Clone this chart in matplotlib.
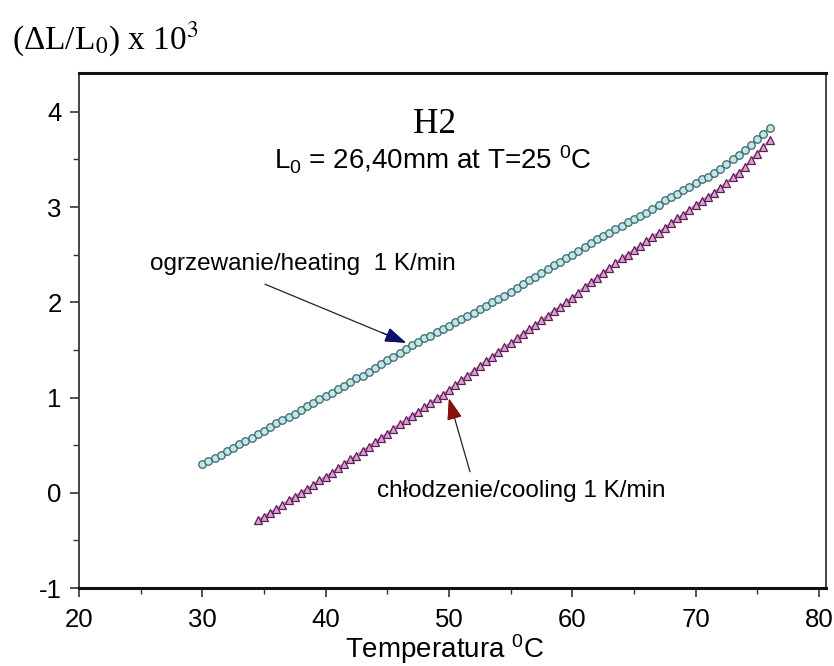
import numpy as np
import matplotlib
matplotlib.use("Agg")
import matplotlib.pyplot as plt
from matplotlib.ticker import MultipleLocator

plt.rcParams["font.family"] = ["Liberation Sans", "DejaVu Sans"]
plt.rcParams["axes.unicode_minus"] = False
plt.rcParams["mathtext.fontset"] = "custom"
plt.rcParams["mathtext.rm"] = "Liberation Sans"
plt.rcParams["mathtext.it"] = "Liberation Sans:italic"

# Relative elongation (dL/L0 x 1e3), sampled every 0.5 K
dl_heat = [
    0.30, 0.33, 0.37, 0.40, 0.44, 0.47, 0.51, 0.54, 0.58, 0.62,
    0.65, 0.69, 0.73, 0.76, 0.80, 0.83, 0.87, 0.91, 0.94, 0.98,
    1.02, 1.05, 1.09, 1.12, 1.16, 1.20, 1.23, 1.27, 1.31, 1.35,
    1.39, 1.43, 1.47, 1.51, 1.55, 1.58, 1.62, 1.65, 1.69, 1.72,
    1.75, 1.79, 1.82, 1.86, 1.89, 1.93, 1.96, 2.00, 2.03, 2.07,
    2.11, 2.15, 2.19, 2.23, 2.27, 2.31, 2.35, 2.39, 2.42, 2.46,
    2.50, 2.54, 2.58, 2.62, 2.66, 2.70, 2.73, 2.77, 2.80, 2.84,
    2.87, 2.91, 2.94, 2.98, 3.02, 3.07, 3.11, 3.14, 3.18, 3.21,
    3.25, 3.29, 3.32, 3.36, 3.40, 3.45, 3.50, 3.55, 3.60, 3.65,
    3.71, 3.77, 3.83,
]
dl_cool = [
    -0.29, -0.25, -0.21, -0.17, -0.13, -0.08, -0.04, 0.00, 0.04, 0.08,
    0.13, 0.17, 0.21, 0.26, 0.30, 0.35, 0.39, 0.44, 0.48, 0.53,
    0.58, 0.62, 0.67, 0.72, 0.76, 0.81, 0.85, 0.90, 0.94, 0.99,
    1.03, 1.08, 1.13, 1.18, 1.23, 1.28, 1.33, 1.38, 1.43, 1.48,
    1.53, 1.57, 1.62, 1.67, 1.72, 1.76, 1.81, 1.86, 1.91, 1.95,
    2.00, 2.05, 2.10, 2.16, 2.21, 2.26, 2.31, 2.36, 2.41, 2.46,
    2.50, 2.55, 2.59, 2.64, 2.69, 2.73, 2.78, 2.83, 2.88, 2.92,
    2.97, 3.02, 3.06, 3.11, 3.15, 3.20, 3.25, 3.31, 3.36, 3.42,
    3.49, 3.56, 3.63, 3.70,
]
t_heat_start, t_cool_start, t_end = 30.0, 34.5, 76.0
temp_heat = np.linspace(t_heat_start, t_end, len(dl_heat))
temp_cool = np.linspace(t_cool_start, t_end, len(dl_cool))

x_ticks = [20, 30, 40, 50, 60, 70, 80]
y_ticks = [-1, 0, 1, 2, 3, 4]

fig = plt.figure(figsize=(8.34, 6.66), dpi=100)
ax = fig.add_axes([0.0947, 0.1171, 0.8953, 0.7737])

ax.plot(temp_cool, dl_cool, color="#e070d8", lw=1.6, zorder=2)
ax.plot(temp_cool, dl_cool, ls="none", marker="^", ms=6.0,
        mfc="#dca0d8", mec="#5a2050", mew=0.9, zorder=3)
ax.plot(temp_heat, dl_heat, color="#9fd4d6", lw=1.6, zorder=2)
ax.plot(temp_heat, dl_heat, ls="none", marker="o", ms=5.4,
        mfc="#c0e6e6", mec="#3a666c", mew=0.9, zorder=3)

ax.set_xlim(20, 80.55)
ax.set_ylim(-1, 4.41)
ax.set_xticks(x_ticks)
ax.set_yticks(y_ticks)
ax.set_xticklabels([str(v) for v in x_ticks])
ax.set_yticklabels([str(v) for v in y_ticks])
ax.xaxis.set_minor_locator(MultipleLocator(5))
ax.yaxis.set_minor_locator(MultipleLocator(0.5))
ax.tick_params(which="major", direction="out", length=6.5, width=1.2,
               labelsize=18.5, color="#333333", pad=6)
ax.tick_params(which="minor", direction="out", length=4.5, width=1.0,
               color="#333333")
ax.tick_params(axis="x", which="major", pad=8)

for side in ("top", "bottom"):
    ax.spines[side].set_linewidth(2.2)
    ax.spines[side].set_color("#111111")
for side in ("left", "right"):
    ax.spines[side].set_linewidth(1.4)
    ax.spines[side].set_color("#444444")

ax.set_xlabel("Temperatura $^{0}$C", fontsize=20)
ax.xaxis.set_label_coords(0.49, -0.085)

fig.text(0.014, 0.94, r"(ΔL/L$_0$) x 10$^3$", fontsize=24,
         family="Liberation Serif", va="center", ha="left",
         math_fontfamily="stix")

ax.text(48.8, 3.87, "H2", fontsize=25.5, family="Liberation Serif",
        ha="center", va="center")
ax.text(48.7, 3.50, "L$_0$ = 26,40mm at T=25 $^0$C", fontsize=20,
        ha="center", va="center")

ax.annotate("", xy=(46.52, 1.575), xytext=(35.08, 2.19),
            arrowprops=dict(arrowstyle="-|>,head_length=1.3,head_width=0.45",
                            color="#222222", lw=0.9, shrinkA=0, shrinkB=0))
ax.annotate("", xy=(46.52, 1.575), xytext=(44.6, 1.68),
            arrowprops=dict(arrowstyle="-|>,head_length=1.3,head_width=0.45",
                            color="#10106e", lw=0.9, shrinkA=0, shrinkB=0))
ax.annotate("", xy=(50.0, 0.99), xytext=(51.71, 0.22),
            arrowprops=dict(arrowstyle="-|>,head_length=1.3,head_width=0.45",
                            color="#222222", lw=0.9, shrinkA=0, shrinkB=0))
ax.annotate("", xy=(50.0, 0.99), xytext=(50.4, 0.80),
            arrowprops=dict(arrowstyle="-|>,head_length=1.3,head_width=0.45",
                            color="#8a1010", lw=0.9, shrinkA=0, shrinkB=0))

ax.text(25.76, 2.40, "ogrzewanie/heating  1 K/min", fontsize=17.5,
        ha="left", va="center")
ax.text(44.17, 0.02, "chłodzenie/cooling 1 K/min", fontsize=17.5,
        ha="left", va="center")

fig.savefig("out.png", dpi=100)
